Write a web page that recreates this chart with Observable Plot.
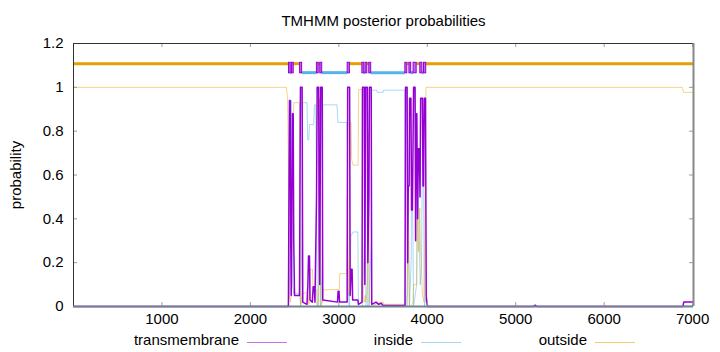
<!DOCTYPE html>
<html><head><meta charset="utf-8">
<script src="https://cdn.jsdelivr.net/npm/d3@7"></script>
<script src="https://cdn.jsdelivr.net/npm/@observablehq/plot@0.6"></script>
<style>
body{margin:0;background:#fff;font-family:"Liberation Sans",Arial,sans-serif;}
#chart{width:720px;height:352px;position:relative;overflow:hidden;}
#legend{position:relative;width:720px;height:24px;font-size:15px;color:#000;}
.lt{position:absolute;top:3px;text-align:right;white-space:nowrap;}
.ll{position:absolute;top:14px;height:0;border-top:1px solid;}
</style></head>
<body><div id="chart"></div>
<script>
// ---- data ----
const seqLength = 7010;
const xTicks = [1000, 2000, 3000, 4000, 5000, 6000, 7000];
const yTicks = [0, 0.2, 0.4, 0.6, 0.8, 1, 1.2];
const seriesNames = ["transmembrane", "inside", "outside"];
const seriesColors = ["#9400D3", "#56B4E9", "#E69F00"];

// topology track (top of chart)
const topoStart = [1, 2436, 2457, 2470, 2491, 2562, 2586, 2752, 2773, 2790, 2813, 3100, 3126, 3266, 3289, 3302, 3323, 3344, 3367, 3752, 3775, 3798, 3819, 3845, 3881, 3921, 3946, 3963, 3989];
const topoEnd   = [2435, 2456, 2469, 2490, 2561, 2585, 2751, 2772, 2789, 2812, 3099, 3125, 3265, 3288, 3301, 3322, 3343, 3366, 3751, 3774, 3797, 3818, 3844, 3880, 3920, 3945, 3962, 3988, 7010];
const topoType  = ["outside","TM","inside","TM","outside","TM","inside","TM","outside","TM","inside","TM","outside","TM","inside","TM","outside","TM","inside","TM","outside","TM","inside","TM","outside","TM","inside","TM","outside"];

// transmembrane posterior
const tmPos = [1, 2430, 2436, 2442, 2450, 2456, 2462, 2468, 2476, 2484, 2490, 2499, 2555, 2560, 2566, 2585, 2592, 2640, 2650, 2657, 2668, 2674, 2700, 2710, 2722, 2730, 2748, 2755, 2772, 2778, 2784, 2790, 2795, 2812, 2818, 2985, 2992, 3002, 3008, 3094, 3100, 3122, 3128, 3140, 3150, 3156, 3200, 3215, 3222, 3262, 3268, 3288, 3294, 3298, 3303, 3322, 3328, 3340, 3346, 3366, 3372, 3420, 3450, 3480, 3500, 3748, 3754, 3772, 3778, 3785, 3795, 3800, 3815, 3822, 3832, 3845, 3862, 3868, 3874, 3882, 3890, 3900, 3910, 3918, 3925, 3945, 3952, 3958, 3966, 3980, 3988, 3995, 4005, 5200, 5220, 5240, 6890, 6900, 7010];
const tmVal = [0, 0, 0.5, 0.94, 0.94, 0.3, 0.05, 0.4, 0.88, 0.88, 0.3, 0.05, 0.05, 0.5, 1.0, 1.0, 0.02, 0.01, 0.1, 0.23, 0.23, 0.03, 0.02, 0.09, 0.09, 0.02, 0.5, 1.0, 1.0, 0.3, 0.1, 0.6, 1.0, 1.0, 0.03, 0.02, 0.07, 0.07, 0.02, 0.02, 1.0, 1.0, 0.05, 0.17, 0.17, 0.03, 0.03, 0.03, 0.01, 0.02, 1.0, 1.0, 0.1, 0.5, 1.0, 1.0, 0.2, 0.5, 1.0, 1.0, 0.01, 0.02, 0.01, 0.015, 0.005, 0.005, 1.0, 1.0, 0.2, 0.55, 0.55, 0.95, 0.95, 0.44, 0.44, 1.0, 1.0, 0.3, 0.88, 0.88, 0.4, 0.72, 0.72, 0.5, 0.95, 0.95, 0.55, 0.55, 0.95, 0.95, 0.05, 0.02, 0, 0, 0.006, 0, 0, 0.02, 0.02];

// inside posterior
const inPos = [1, 2425, 2432, 2440, 2448, 2456, 2462, 2468, 2476, 2490, 2555, 2562, 2570, 2582, 2590, 2640, 2648, 2660, 2668, 2715, 2725, 2740, 2750, 2756, 2772, 2778, 2784, 2790, 2796, 2812, 2820, 2980, 2988, 3090, 3096, 3100, 3118, 3125, 3135, 3160, 3215, 3222, 3266, 3288, 3294, 3300, 3306, 3322, 3328, 3335, 3342, 3366, 3372, 3430, 3435, 3500, 3505, 3745, 3752, 3758, 3774, 3780, 3790, 3798, 3818, 3822, 3830, 3838, 3845, 3880, 3890, 3900, 3910, 3920, 3935, 3945, 3955, 3962, 3968, 3985, 3995, 4005, 6880, 6900, 7010];
const inVal = [0, 0, 0.03, 0.05, 0.3, 0.6, 0.94, 0.6, 0.1, 0.06, 0.06, 0.03, 0, 0.3, 0.93, 0.93, 0.76, 0.76, 0.83, 0.83, 0.92, 0.92, 0.4, 0, 0, 0.5, 0.7, 0.2, 0, 0.2, 0.92, 0.92, 0.84, 0.84, 0.73, 0.1, 0, 0.1, 0.32, 0.34, 0.34, 0, 0, 0.3, 0.9, 0.4, 0, 0, 0.4, 0.6, 0, 0.3, 0.987, 0.987, 0.977, 0.977, 0.987, 0.987, 0.5, 0, 0, 0.3, 0.2, 0, 0.2, 0.55, 0.55, 0.3, 0, 0.1, 0.6, 0.45, 0.3, 0.1, 0.2, 0.7, 0.85, 0.3, 0, 0.04, 0.01, 0, 0, 0.003, 0.003];

// outside posterior
const outPos = [1, 2408, 2420, 2432, 2440, 2452, 2460, 2470, 2480, 2492, 2555, 2562, 2570, 2585, 2640, 2650, 2662, 2679, 2702, 2708, 2750, 2756, 2772, 2781, 2790, 2798, 2815, 2822, 3005, 3010, 3090, 3096, 3105, 3118, 3124, 3138, 3145, 3160, 3218, 3224, 3262, 3268, 3275, 3288, 3295, 3300, 3306, 3322, 3330, 3338, 3344, 3366, 3375, 3420, 3436, 3505, 3510, 3745, 3752, 3774, 3782, 3792, 3798, 3818, 3838, 3845, 3880, 3888, 3900, 3915, 3921, 3945, 3963, 3975, 3985, 6885, 6897, 7010];
const outVal = [1.0, 1.0, 0.95, 0.6, 0.05, 0.02, 0.05, 0.4, 0.85, 0.93, 0.93, 0.4, 0.01, 0.06, 0.063, 0.06, 0.01, 0.17, 0.17, 0.08, 0.076, 0, 0.02, 0.95, 0.3, 0, 0.02, 0.076, 0.078, 0.15, 0.15, 0.5, 0.05, 0.3, 0.84, 0.84, 0.67, 0.645, 0.645, 0.99, 0.99, 0.3, 0.02, 0.02, 0.05, 0.05, 0.02, 0.1, 0.8, 0.5, 0.02, 0.02, 0.005, 0.01, 0.02, 0.02, 0.01, 0.01, 0, 0.05, 0.45, 0.3, 0, 0, 0.02, 0.1, 0.1, 0.45, 0.25, 0.45, 0.3, 0.05, 0.02, 0.5, 1.0, 1.0, 0.977, 0.977];

// ---- build tables ----
const toRows = (p, v) => p.map((x, i) => ({pos: x, prob: v[i]}));
const tm = toRows(tmPos, tmVal);
const inside = toRows(inPos, inVal);
const outside = toRows(outPos, outVal);
const topo = topoStart.map((s, i) => ({start: s, end: topoEnd[i], type: topoType[i]}));

const FONT = '"Liberation Sans", Arial, sans-serif';

const plot = Plot.plot({
  width: 720,
  height: 328,
  marginLeft: 73,
  marginRight: 27,
  marginTop: 43,
  marginBottom: 22,
  x: {domain: [0, seqLength]},
  y: {domain: [0, 1.2]},
  style: {fontFamily: FONT, fontSize: "15px", background: "#fff", color: "#000", overflow: "visible"},
  marks: [
    Plot.line(inside, {x: "pos", y: "prob", stroke: seriesColors[1], strokeOpacity: 0.5, strokeWidth: 1}),
    Plot.line(outside, {x: "pos", y: "prob", stroke: seriesColors[2], strokeOpacity: 0.45, strokeWidth: 1}),
    Plot.line(tm, {x: "pos", y: "prob", stroke: seriesColors[0], strokeWidth: 1.5}),
    Plot.ruleY(topo.filter(d => d.type === "outside"), {x1: "start", x2: "end", y: 1.108, stroke: seriesColors[2], strokeWidth: 3}),
    Plot.ruleY(topo.filter(d => d.type === "inside"), {x1: "start", x2: "end", y: 1.067, stroke: seriesColors[1], strokeWidth: 3}),
    Plot.rect(topo.filter(d => d.type === "TM"), {x1: "start", x2: "end", y1: 1.064, y2: 1.112, fill: seriesColors[0], fillOpacity: 0.6, stroke: seriesColors[0], strokeWidth: 1}),
    // inward ticks (mirrored)
    Plot.ruleX(xTicks, {y1: 0, y2: 0.018, stroke: "#999"}),
    Plot.ruleX(xTicks, {y1: 1.2, y2: 1.182, stroke: "#999"}),
    Plot.ruleY(yTicks, {x1: 0, x2: 45, stroke: "#999"}),
    Plot.ruleY(yTicks, {x1: seqLength - 45, x2: seqLength, stroke: "#999"}),
    // border
    Plot.ruleX([0], {stroke: "#333"}),
    Plot.ruleY([1.2], {stroke: "#333"}),
    Plot.ruleX([seqLength], {stroke: "#888", strokeWidth: 2}),
    Plot.ruleY([0], {stroke: "#738290", strokeWidth: 2}),
    Plot.axisX(xTicks, {tickSize: 0, tickPadding: 7, label: null, fontSize: 15, tickFormat: d => String(d)}),
    Plot.axisY(yTicks, {tickSize: 0, tickPadding: 10, label: null, fontSize: 15, tickFormat: d => String(d)}),
    Plot.text(["TMHMM posterior probabilities"], {frameAnchor: "top", dy: -22, lineAnchor: "middle", fontSize: 15}),
    Plot.text(["probability"], {frameAnchor: "left", dx: -57, rotate: -90, textAnchor: "middle", lineAnchor: "middle", fontSize: 15})
  ]
});
document.getElementById("chart").appendChild(plot);

// legend below the svg
const legend = d3.select("#chart").append("div").attr("id", "legend");
seriesNames.forEach((name, i) => {
  const lineLeft = 247 + 174 * i;
  legend.append("div").attr("class", "lt")
    .style("right", (720 - (lineLeft - 8)) + "px").text(name);
  legend.append("div").attr("class", "ll")
    .style("left", lineLeft + "px").style("width", "40px")
    .style("border-top-color", seriesColors[i]).style("opacity", 0.55);
});
</script></body></html>
